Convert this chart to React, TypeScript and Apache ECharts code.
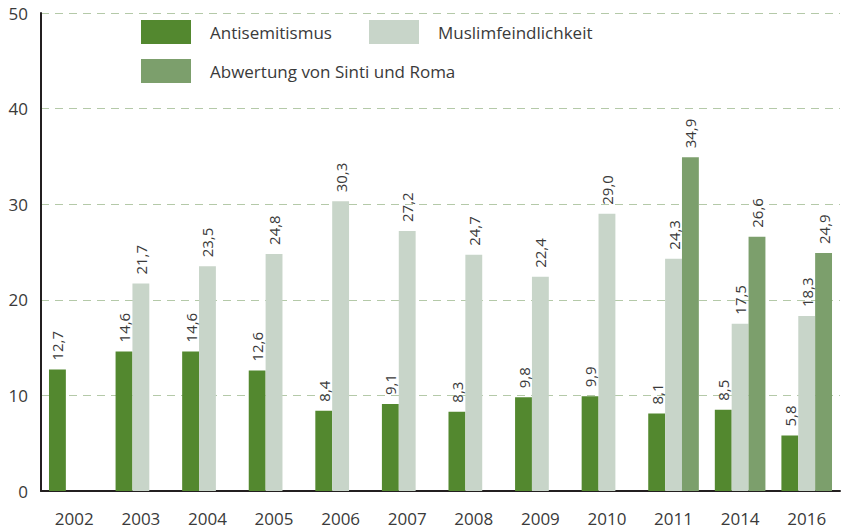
import React, { useEffect, useRef } from "react";
import * as echarts from "echarts";

const categories = ["2002", "2003", "2004", "2005", "2006", "2007", "2008", "2009", "2010", "2011", "2014", "2016"];
const antisemitismus = [12.7, 14.6, 14.6, 12.6, 8.4, 9.1, 8.3, 9.8, 9.9, 8.1, 8.5, 5.8];
const muslimfeindlichkeit = [null, 21.7, 23.5, 24.8, 30.3, 27.2, 24.7, 22.4, 29.0, 24.3, 17.5, 18.3];
const sintiRoma = [null, null, null, null, null, null, null, null, null, 34.9, 26.6, 24.9];
const seriesNames = ["Antisemitismus", "Muslimfeindlichkeit", "Abwertung von Sinti und Roma"];
const yTicks = { min: 0, max: 50, interval: 10 };

const colors = ["#53882f", "#c8d5c9", "#7c9f6c"];
const FONT = "'Open Sans', 'Noto Sans', sans-serif";

export default function App() {
  const ref = useRef<HTMLDivElement>(null);
  useEffect(() => {
    if (!ref.current) return;
    const chart = echarts.init(ref.current, null, { renderer: "svg" });
    const label = {
      show: true,
      position: "top",
      rotate: 90,
      align: "left",
      verticalAlign: "middle",
      distance: 9,
      color: "#3a3a3a",
      fontSize: 15,
      fontFamily: FONT,
      formatter: (p: any) => Number(p.value).toFixed(1).replace(".", ","),
    };
    const legendCommon = {
      selectedMode: false,
      padding: 0,
      itemWidth: 50,
      itemHeight: 24,
      icon: "rect",
      textStyle: { fontSize: 17, color: "#3a3a3a", fontFamily: FONT, padding: [0, 0, 0, 14] },
    };
    chart.setOption({
      animation: false,
      color: colors,
      textStyle: { fontFamily: FONT },
      legend: [
        { ...legendCommon, left: 141, top: 20, data: [seriesNames[0]] },
        { ...legendCommon, left: 369, top: 20, data: [seriesNames[1]] },
        { ...legendCommon, left: 141, top: 59, data: [seriesNames[2]] },
      ],
      grid: { left: 41, right: 1, top: 13, bottom: 38, containLabel: false },
      xAxis: {
        type: "category",
        data: categories,
        axisTick: { show: false },
        axisLine: { lineStyle: { color: "#231f20", width: 2 } },
        axisLabel: { fontSize: 17, color: "#3a3a3a", margin: 19, fontFamily: FONT },
      },
      yAxis: {
        type: "value",
        min: yTicks.min,
        max: yTicks.max,
        interval: yTicks.interval,
        axisLine: { show: true, lineStyle: { color: "#231f20", width: 2 } },
        axisTick: { show: false },
        axisLabel: { fontSize: 17, color: "#3a3a3a", margin: 13, fontFamily: FONT },
        splitLine: { lineStyle: { color: "#b4c9a8", type: [8, 6], width: 1 } },
      },
      series: [
        { name: seriesNames[0], type: "bar", data: antisemitismus, barGap: "0%", barCategoryGap: "24%", label },
        { name: seriesNames[1], type: "bar", data: muslimfeindlichkeit, barGap: "0%", barCategoryGap: "24%", label },
        { name: seriesNames[2], type: "bar", data: sintiRoma, barGap: "0%", barCategoryGap: "24%", label },
      ],
    });
    return () => chart.dispose();
  }, []);
  return <div ref={ref} style={{ width: 841, height: 529, position: "absolute", left: 0, top: 0 }} />;
}
